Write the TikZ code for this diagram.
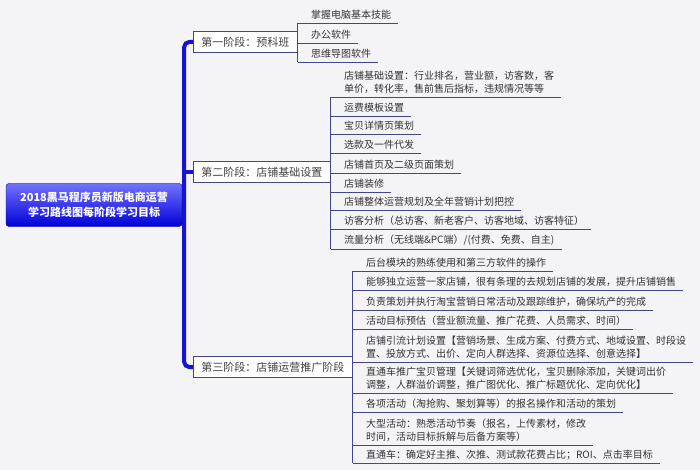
\documentclass[tikz,border=0pt]{standalone}
\usepackage{fontspec}
\newfontfamily\cjk{Noto Sans CJK SC}
\definecolor{bgc}{HTML}{F4F4F6}
\definecolor{trunkc}{HTML}{1414D2}
\definecolor{twigc}{HTML}{45458F}
\definecolor{leaftext}{HTML}{333333}
\begin{document}
\begin{tikzpicture}[x=1pt,y=-1pt,
  root/.style={draw=blue!55!black, rounded corners=3pt, top color=blue!55!white, bottom color=blue!85!black,
    text=white, font=\cjk\bfseries\fontsize{11}{15}\selectfont, minimum width=176pt, minimum height=43pt, align=center},
  stage/.style={draw=twigc, line width=0.9pt, fill=white, anchor=west, inner xsep=8pt, minimum height=21pt,
    text=black!75, font=\cjk\fontsize{11}{13}\selectfont},
  leaf/.style={anchor=south west, xshift=6pt, inner xsep=7pt, inner ysep=3pt, align=left,
    text=leaftext, font=\cjk\fontsize{10}{13.5}\selectfont},
  twig/.style={draw=twigc, line width=0.9pt},
  trunk/.style={draw=trunkc, line width=4pt, rounded corners=5pt}]

  \fill[bgc] (0,0) rectangle (700,470);
  \useasboundingbox (0,0) rectangle (700,470);

  % root and stages
  \node[root] (root) at (94,205) {2018黑马程序员新版电商运营\\学习路线图每阶段学习目标};
  \node[stage] (s1) at (193,42) {第一阶段：预科班};
  \node[stage] (s2) at (193,172) {第二阶段：店铺基础设置};
  \node[stage] (s3) at (193,367) {第三阶段：店铺运营推广阶段};

  \coordinate (hub) at ([xshift=2pt]root.east);
  \draw[trunk] (s1.west) -| (hub) |- (s3.west);
  \draw[trunk] (hub |- s2.west) -- (s2.west);

  % stage one
  \node[leaf] (a1) at (s1.east |- 0,23) {掌握电脑基本技能};
  \node[leaf] (a2) at (s1.east |- 0,43) {办公软件};
  \node[leaf] (a3) at (s1.east |- 0,62) {思维导图软件};
  \draw[twig] (s1.east |- a1.south) -- (s1.east |- a3.south);
  \foreach \n in {a1,a2,a3}
    \draw[twig] (s1.east |- \n.south) -- (\n.south east);

  % stage two
  \node[leaf] (b1) at (s2.east |- 0,97) {店铺基础设置：行业排名，营业额，访客数，客\\单价，转化率，售前售后指标，违规情况等等};
  \node[leaf] (b2) at (s2.east |- 0,116) {运费模板设置};
  \node[leaf] (b3) at (s2.east |- 0,134) {宝贝详情页策划};
  \node[leaf] (b4) at (s2.east |- 0,153) {选款及一件代发};
  \node[leaf] (b5) at (s2.east |- 0,173) {店铺首页及二级页面策划};
  \node[leaf] (b6) at (s2.east |- 0,192) {店铺装修};
  \node[leaf] (b7) at (s2.east |- 0,210) {店铺整体运营规划及全年营销计划把控};
  \node[leaf] (b8) at (s2.east |- 0,229) {访客分析（总访客、新老客户、访客地域、访客特征）};
  \node[leaf] (b9) at (s2.east |- 0,249) {流量分析（无线端\&PC端）/(付费、免费、自主)};
  \draw[twig] (s2.east |- b1.south) -- (s2.east |- b9.south);
  \foreach \n in {b1,b2,b3,b4,b5,b6,b7,b8,b9}
    \draw[twig] (s2.east |- \n.south) -- (\n.south east);

  % stage three
  \node[leaf] (c1) at (s3.east |- 0,271) {后台模块的熟练使用和第三方软件的操作};
  \node[leaf] (c2) at (s3.east |- 0,290) {能够独立运营一家店铺，很有条理的去规划店铺的发展，提升店铺销售};
  \node[leaf] (c3) at (s3.east |- 0,310) {负责策划并执行淘宝营销日常活动及跟踪维护，确保坑产的完成};
  \node[leaf] (c4) at (s3.east |- 0,329) {活动目标预估（营业额流量、推广花费、人员需求、时间）};
  \node[leaf] (c5) at (s3.east |- 0,362) {店铺引流计划设置【营销场景、生成方案、付费方式、地域设置、时段设\\置、投放方式、出价、定向人群选择、资源位选择、创意选择】};
  \node[leaf] (c6) at (s3.east |- 0,393) {直通车推广宝贝管理【关键词筛选优化，宝贝删除添加，关键词出价\\调整，人群溢价调整，推广图优化、推广标题优化、定向优化】};
  \node[leaf] (c7) at (s3.east |- 0,412) {各项活动（淘抢购、聚划算等）的报名操作和活动的策划};
  \node[leaf] (c8) at (s3.east |- 0,445) {大型活动：熟悉活动节奏（报名，上传素材，修改\\时间，活动目标拆解与后备方案等）};
  \node[leaf] (c9) at (s3.east |- 0,463) {直通车：确定好主推、次推、测试款花费占比；ROI、点击率目标};
  \draw[twig] (s3.east |- c1.south) -- (s3.east |- c9.south);
  \foreach \n in {c1,c2,c3,c4,c5,c6,c7,c8,c9}
    \draw[twig] (s3.east |- \n.south) -- (\n.south east);

\end{tikzpicture}
\end{document}
